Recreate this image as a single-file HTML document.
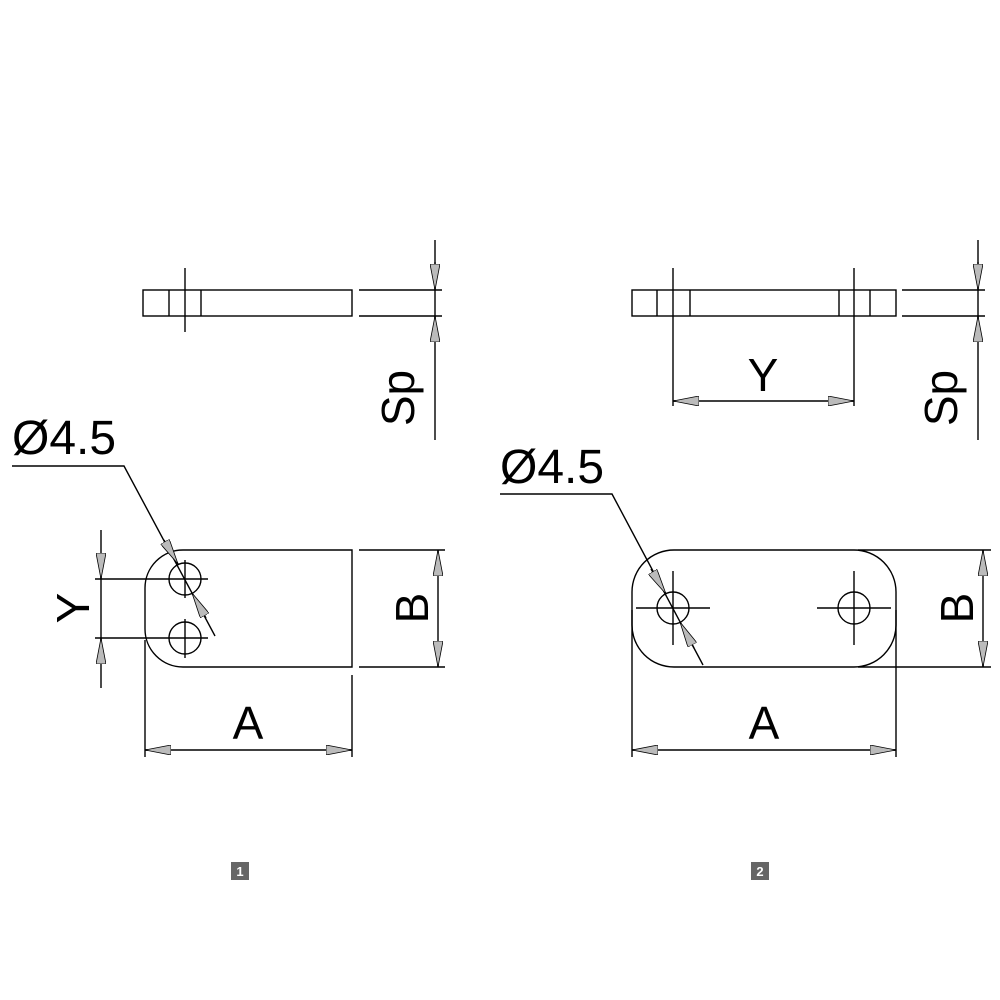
<!DOCTYPE html>
<html><head><style>
html,body{margin:0;padding:0;background:#fff;}
svg{display:block;}
text{font-family:"Liberation Sans",sans-serif;fill:#000;}
</style></head><body>
<svg width="1000" height="1000" viewBox="0 0 1000 1000" xmlns="http://www.w3.org/2000/svg">
<defs>
<marker id="ar" viewBox="0 0 26 10" refX="26" refY="5" markerWidth="26" markerHeight="10" markerUnits="userSpaceOnUse" orient="auto">
<path d="M0,0 L26,5 L0,10 Z" fill="#bbb" stroke="#000" stroke-width="0.8"/>
</marker>
</defs>
<g stroke="#000" stroke-width="1.4" fill="none">
<rect x="143" y="290" width="209" height="26"/>
<line x1="169" y1="290" x2="169" y2="316"/>
<line x1="201" y1="290" x2="201" y2="316"/>
<line x1="185" y1="268" x2="185" y2="332"/>
<line x1="359" y1="290" x2="442" y2="290"/>
<line x1="359" y1="316" x2="442" y2="316"/>
<line x1="435" y1="240" x2="435" y2="440"/>
<line x1="435" y1="262" x2="435" y2="290" marker-end="url(#ar)"/>
<line x1="435" y1="342" x2="435" y2="316" marker-end="url(#ar)"/>
<path d="M352,550 L183,550 A38,38 0 0 0 145,588 L145,629 A38,38 0 0 0 183,667 L352,667 Z"/>
<circle cx="185" cy="579" r="16"/>
<circle cx="185" cy="638" r="16"/>
<line x1="95" y1="579" x2="208" y2="579"/>
<line x1="95" y1="638" x2="208" y2="638"/>
<line x1="185" y1="560" x2="185" y2="598"/>
<line x1="185" y1="619" x2="185" y2="658"/>
<line x1="101" y1="530" x2="101" y2="688"/>
<line x1="101" y1="553" x2="101" y2="579" marker-end="url(#ar)"/>
<line x1="101" y1="664" x2="101" y2="638" marker-end="url(#ar)"/>
<line x1="359" y1="550" x2="445" y2="550"/>
<line x1="359" y1="667" x2="445" y2="667"/>
<line x1="438" y1="550" x2="438" y2="667"/>
<line x1="438" y1="576" x2="438" y2="550" marker-end="url(#ar)"/>
<line x1="438" y1="641" x2="438" y2="667" marker-end="url(#ar)"/>
<line x1="145" y1="640" x2="145" y2="757"/>
<line x1="352" y1="675" x2="352" y2="757"/>
<line x1="145" y1="750" x2="352" y2="750"/>
<line x1="171" y1="750" x2="145" y2="750" marker-end="url(#ar)"/>
<line x1="326" y1="750" x2="352" y2="750" marker-end="url(#ar)"/>
<polyline points="12,466 124,466 215,636"/>
<line x1="164" y1="540" x2="178" y2="564" marker-end="url(#ar)"/>
<line x1="206" y1="618" x2="192" y2="593" marker-end="url(#ar)"/>

<rect x="632" y="290" width="264" height="26"/>
<line x1="657" y1="290" x2="657" y2="316"/>
<line x1="690" y1="290" x2="690" y2="316"/>
<line x1="839" y1="290" x2="839" y2="316"/>
<line x1="870" y1="290" x2="870" y2="316"/>
<line x1="673" y1="268" x2="673" y2="406"/>
<line x1="854" y1="268" x2="854" y2="406"/>
<line x1="673" y1="401" x2="854" y2="401"/>
<line x1="699" y1="401" x2="673" y2="401" marker-end="url(#ar)"/>
<line x1="828" y1="401" x2="854" y2="401" marker-end="url(#ar)"/>
<line x1="902" y1="290" x2="985" y2="290"/>
<line x1="902" y1="316" x2="985" y2="316"/>
<line x1="978" y1="240" x2="978" y2="440"/>
<line x1="978" y1="262" x2="978" y2="290" marker-end="url(#ar)"/>
<line x1="978" y1="342" x2="978" y2="316" marker-end="url(#ar)"/>
<rect x="632" y="550" width="264" height="117" rx="42" ry="42"/>
<circle cx="673" cy="608" r="16"/>
<circle cx="854" cy="608" r="16"/>
<line x1="636" y1="608" x2="710" y2="608"/>
<line x1="673" y1="571" x2="673" y2="645"/>
<line x1="817" y1="608" x2="891" y2="608"/>
<line x1="854" y1="571" x2="854" y2="645"/>
<line x1="858" y1="550" x2="991" y2="550"/>
<line x1="858" y1="667" x2="991" y2="667"/>
<line x1="983" y1="550" x2="983" y2="667"/>
<line x1="983" y1="576" x2="983" y2="550" marker-end="url(#ar)"/>
<line x1="983" y1="641" x2="983" y2="667" marker-end="url(#ar)"/>
<line x1="632" y1="610" x2="632" y2="757"/>
<line x1="896" y1="610" x2="896" y2="757"/>
<line x1="632" y1="750" x2="896" y2="750"/>
<line x1="658" y1="750" x2="632" y2="750" marker-end="url(#ar)"/>
<line x1="870" y1="750" x2="896" y2="750" marker-end="url(#ar)"/>
<polyline points="500,494 612,494 703,665"/>
<line x1="651" y1="569" x2="666" y2="594" marker-end="url(#ar)"/>
<line x1="694" y1="648" x2="680" y2="622" marker-end="url(#ar)"/>
</g>

<g font-size="46">
<text x="12" y="454" font-size="48">Ø4.5</text>
<text x="500" y="483" font-size="48">Ø4.5</text>
<text x="248" y="739" text-anchor="middle">A</text>
<text x="764" y="739" text-anchor="middle">A</text>
<text x="763" y="391" text-anchor="middle">Y</text>
<text transform="translate(89,608) rotate(-90)" text-anchor="middle">Y</text>
<text transform="translate(428,608) rotate(-90)" text-anchor="middle">B</text>
<text transform="translate(973,608) rotate(-90)" text-anchor="middle">B</text>
<text transform="translate(414,398) rotate(-90)" text-anchor="middle">Sp</text>
<text transform="translate(957,398) rotate(-90)" text-anchor="middle">Sp</text>
</g>

<rect x="231" y="862" width="18" height="18" fill="#666"/>
<text x="240" y="876" font-size="13" font-weight="bold" text-anchor="middle" style="fill:#fff">1</text>
<rect x="751" y="862" width="18" height="18" fill="#666"/>
<text x="760" y="876" font-size="13" font-weight="bold" text-anchor="middle" style="fill:#fff">2</text>
</svg>
</body></html>
